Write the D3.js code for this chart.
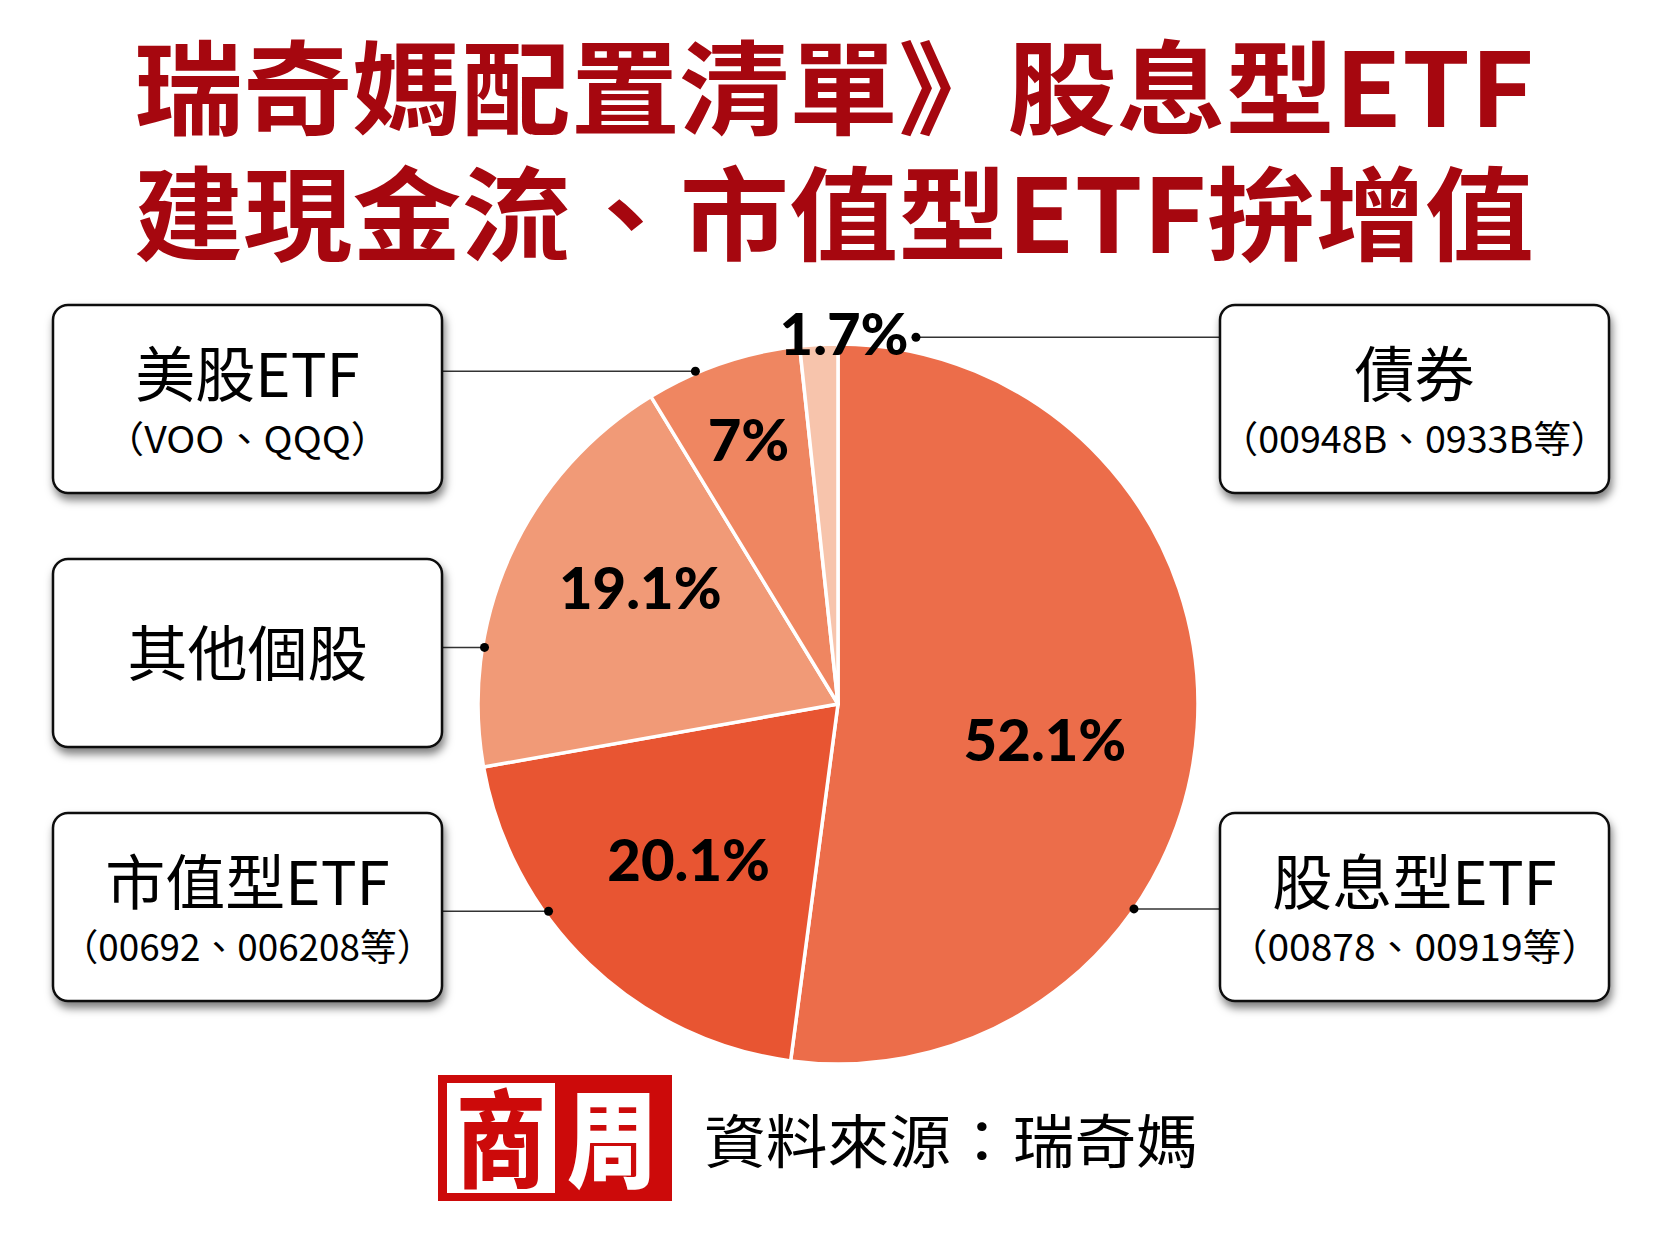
<!DOCTYPE html>
<html>
<head>
<meta charset="utf-8">
<script src="https://cdn.jsdelivr.net/npm/d3@7"></script>
<style>
body { margin: 0; background: #fff; }
svg { display: block; }
</style>
</head>
<body>
<div id="chart"></div>
<script>
// data
var categories = ["股息型ETF", "市值型ETF", "其他個股", "美股ETF", "債券"];
var subLabels = ["（00878、00919等）", "（00692、006208等）", "", "（VOO、QQQ）", "（00948B、0933B等）"];
var values = [52.1, 20.1, 19.1, 7, 1.7];
var valueLabels = ["52.1%", "20.1%", "19.1%", "7%", "1.7%"];
var colors = ["#EC6D4A", "#E85532", "#F19A77", "#EF8661", "#F7C4AC"];
var titleLines = ["瑞奇媽配置清單》股息型ETF", "建現金流、市值型ETF拚增值"];
var sourceText = "資料來源：瑞奇媽";

// layout for labels and callouts (one per slice)
var labelRadius = [210, 216, 229, 279, 370];
var labelShift = [6, 0, 6, 0, 4];        // degrees
var calloutAngle = [124.7, 234.4, 279.1, 336.8, 12];
var calloutRadius = [360, 356, 358, 362, 375];
var boxSide = ["right", "left", "left", "left", "right"];
var boxTop = [813, 813, 559, 305, 305];
var subWidth = [372, 372, 0, 285, 388];

var width = 1667, height = 1250;
var cx = 838, cy = 704, radius = 360;
var boxW = 389, boxH = 188;

var svg = d3.select("#chart")
  .append("svg")
  .attr("width", width)
  .attr("height", height);

var defs = svg.append("defs");
var shadow = defs.append("filter")
  .attr("id", "shadow")
  .attr("x", "-10%").attr("y", "-10%")
  .attr("width", "130%").attr("height", "140%");
shadow.append("feDropShadow")
  .attr("dx", 2).attr("dy", 6)
  .attr("stdDeviation", 4)
  .attr("flood-color", "#000")
  .attr("flood-opacity", 0.5);

// title
svg.append("g")
  .selectAll("text")
  .data(titleLines)
  .enter()
  .append("text")
  .attr("x", 834)
  .attr("y", (d, i) => i == 0 ? 127 : 253)
  .attr("text-anchor", "middle")
  .attr("textLength", 1400)
  .attr("lengthAdjust", "spacingAndGlyphs")
  .style("font-family", "'Noto Sans CJK TC', sans-serif")
  .style("font-weight", 700)
  .style("font-size", "102px")
  .style("fill", "#A6070F")
  .text(d => d);

// pie
var pie = d3.pie().sort(null).value(d => d);
var arcs = pie(values);
var arc = d3.arc().innerRadius(0).outerRadius(radius);

var pieGroup = svg.append("g")
  .attr("transform", "translate(" + cx + "," + cy + ")");

pieGroup.selectAll("path")
  .data(arcs)
  .enter()
  .append("path")
  .attr("d", arc)
  .style("fill", (d, i) => colors[i])
  .style("stroke", "#fff")
  .style("stroke-width", 3.5)
  .style("stroke-linejoin", "round");

// callout lines + dots
var callouts = arcs.map(function(d, i) {
  var p = d3.pointRadial(calloutAngle[i] * Math.PI / 180, calloutRadius[i]);
  return {x: cx + p[0], y: cy + p[1], i: i};
});

svg.append("g")
  .selectAll("line")
  .data(callouts)
  .enter()
  .append("line")
  .attr("x1", d => d.x)
  .attr("y1", d => d.y)
  .attr("x2", d => boxSide[d.i] == "left" ? 53 + boxW : 1220)
  .attr("y2", d => d.y)
  .style("stroke", "#333")
  .style("stroke-width", 1.5);

svg.append("g")
  .selectAll("circle")
  .data(callouts)
  .enter()
  .append("circle")
  .attr("cx", d => d.x)
  .attr("cy", d => d.y)
  .attr("r", 4.5)
  .style("fill", "#000");

// percentage labels
pieGroup.append("g")
  .selectAll("text")
  .data(arcs)
  .enter()
  .append("text")
  .attr("transform", function(d, i) {
    var a = (d.startAngle + d.endAngle) / 2 + labelShift[i] * Math.PI / 180;
    var p = d3.pointRadial(a, labelRadius[i]);
    return "translate(" + p[0] + "," + p[1] + ")";
  })
  .attr("dy", "0.36em")
  .attr("text-anchor", "middle")
  .style("font-family", "Lato, sans-serif")
  .style("font-weight", 900)
  .style("font-size", "58px")
  .style("fill", "#000")
  .text((d, i) => valueLabels[i]);

// label boxes
var boxes = svg.append("g")
  .selectAll("g")
  .data(categories)
  .enter()
  .append("g")
  .attr("transform", (d, i) => "translate(" + (boxSide[i] == "left" ? 53 : 1220) + "," + boxTop[i] + ")");

boxes.append("rect")
  .attr("width", boxW)
  .attr("height", boxH)
  .attr("rx", 15)
  .style("fill", "#fff")
  .style("stroke", "#111")
  .style("stroke-width", 2.5)
  .attr("filter", "url(#shadow)");

boxes.append("text")
  .attr("x", boxW / 2)
  .attr("y", (d, i) => subLabels[i] ? 92 : 117)
  .attr("text-anchor", "middle")
  .style("font-family", "'Noto Sans CJK TC', sans-serif")
  .style("font-size", "60px")
  .style("fill", "#000")
  .text(d => d);

boxes.filter((d, i) => subLabels[i] != "")
  .append("text")
  .attr("x", boxW / 2)
  .attr("y", 148)
  .attr("text-anchor", "middle")
  .attr("textLength", d => subWidth[categories.indexOf(d)])
  .attr("lengthAdjust", "spacingAndGlyphs")
  .style("font-family", "'Noto Sans CJK TC', sans-serif")
  .style("font-size", "37px")
  .style("fill", "#000")
  .text(d => subLabels[categories.indexOf(d)]);

// footer logo
var logo = svg.append("g").attr("transform", "translate(438,1075)");
logo.append("rect")
  .attr("width", 234).attr("height", 126)
  .style("fill", "#CC0A0A");
logo.append("rect")
  .attr("x", 9).attr("y", 8)
  .attr("width", 108).attr("height", 110)
  .style("fill", "#fff");
logo.append("text")
  .attr("x", 63).attr("y", 104)
  .attr("text-anchor", "middle")
  .attr("textLength", 90)
  .attr("lengthAdjust", "spacingAndGlyphs")
  .style("font-family", "'Noto Sans CJK TC', sans-serif")
  .style("font-weight", 900)
  .style("font-size", "106px")
  .style("fill", "#CC0A0A")
  .text("商");
logo.append("text")
  .attr("x", 174).attr("y", 104)
  .attr("text-anchor", "middle")
  .attr("textLength", 90)
  .attr("lengthAdjust", "spacingAndGlyphs")
  .style("font-family", "'Noto Sans CJK TC', sans-serif")
  .style("font-weight", 900)
  .style("font-size", "106px")
  .style("fill", "#fff")
  .text("周");

svg.append("text")
  .attr("x", 704)
  .attr("y", 1163)
  .attr("textLength", 494)
  .attr("lengthAdjust", "spacingAndGlyphs")
  .style("font-family", "'Noto Sans CJK TC', sans-serif")
  .style("font-size", "58px")
  .style("fill", "#000")
  .text(sourceText);
</script>
</body>
</html>
